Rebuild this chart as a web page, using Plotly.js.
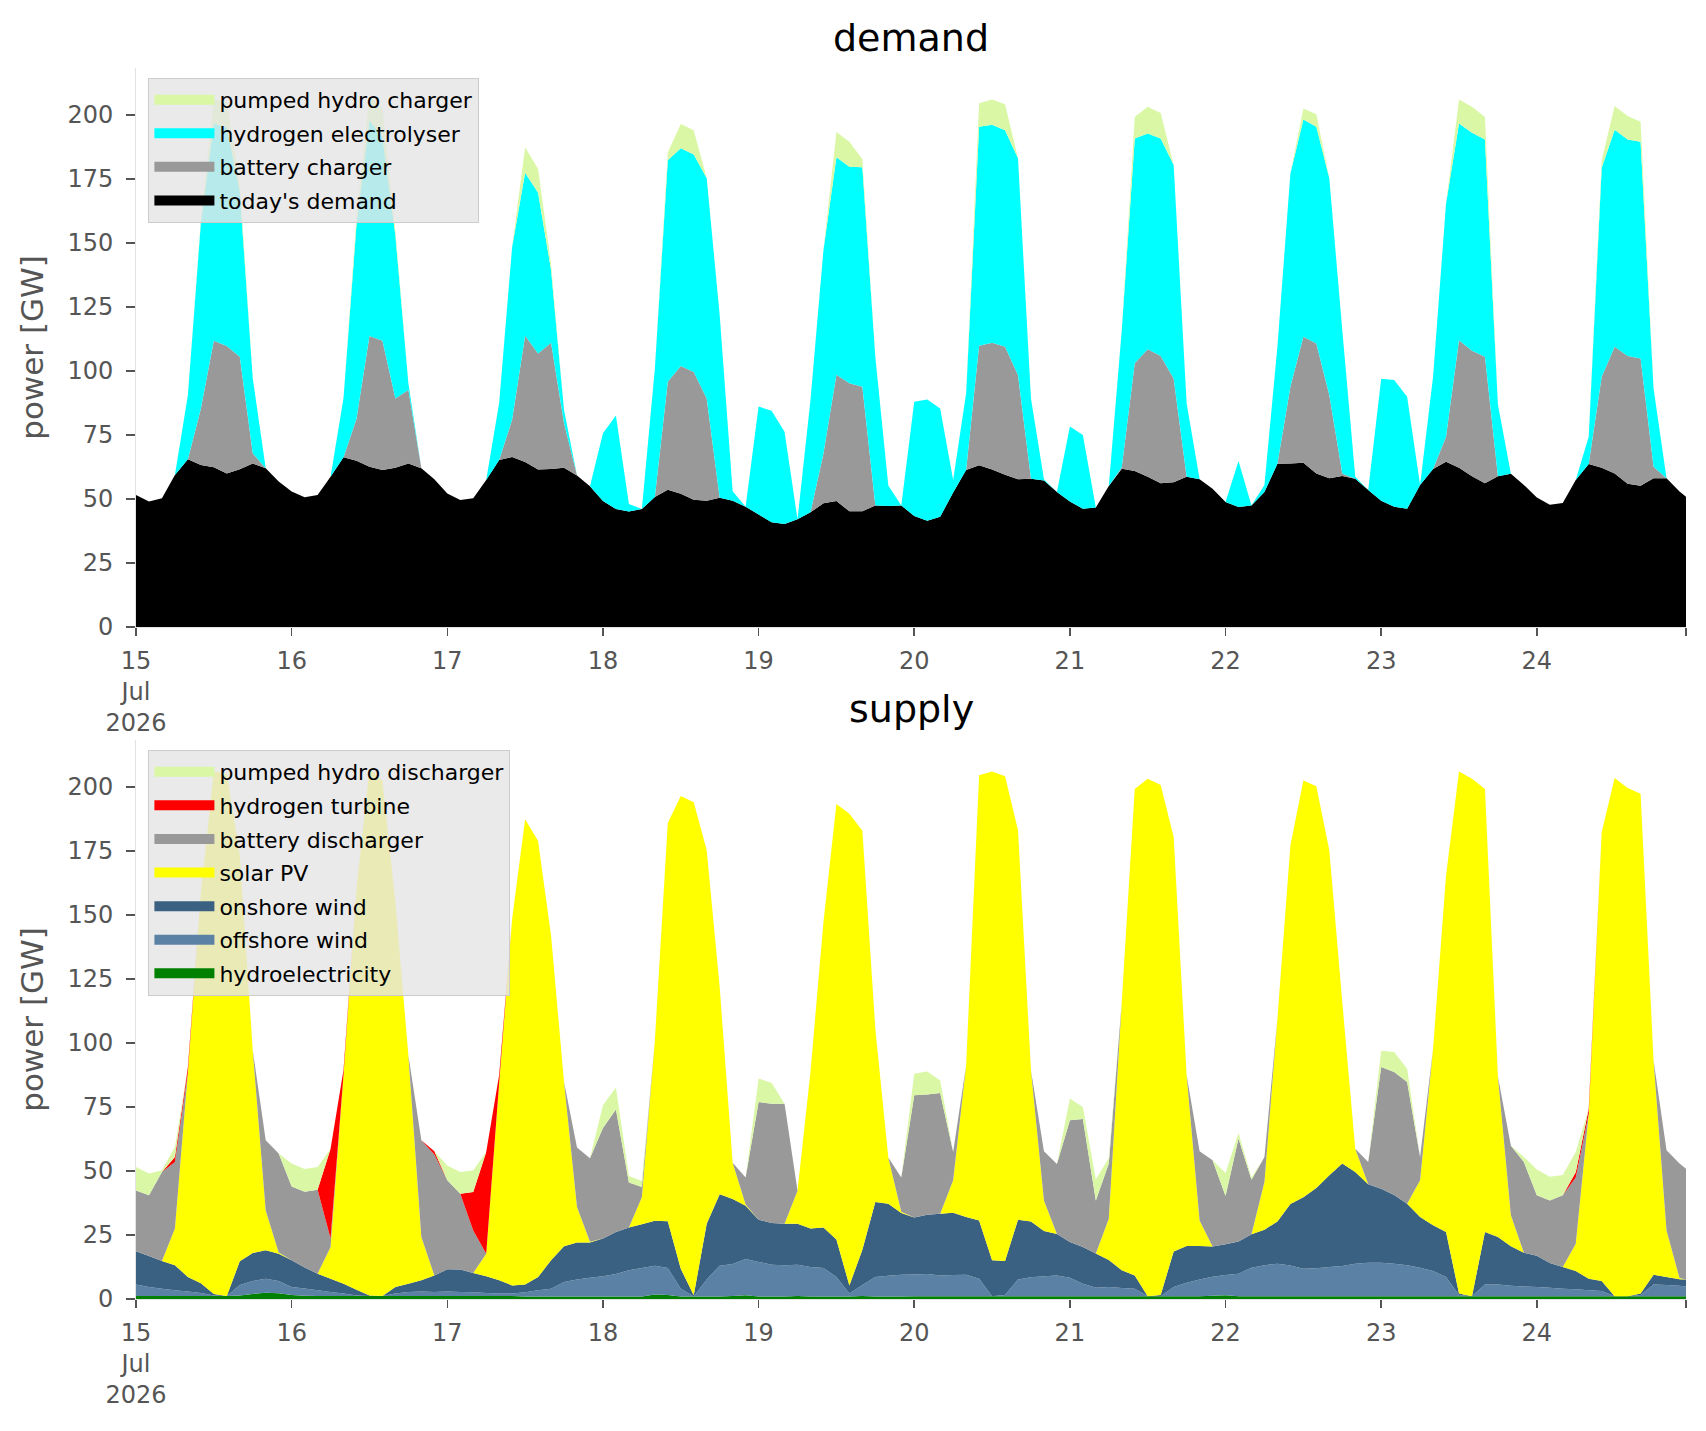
<!DOCTYPE html>
<html>
<head>
<meta charset="utf-8">
<script src="https://cdn.plot.ly/plotly-3.0.1.min.js"></script>
<style>
  html, body { margin: 0; padding: 0; background: #ffffff; }
  #chart { width: 1706px; height: 1431px; }
</style>
</head>
<body>
<div id="chart"></div>
<script>
// two-hourly readings, 15 Jul 00:00 .. 24 Jul 22:00, plus the last hour 24 Jul 23:00
// one row per day (12 values), last value is 24 Jul 23:00

// ---- demand side [GW]
const todaysDemand = [
  51.6, 49.0, 50.3, 59.4, 65.5, 63.3, 62.4, 60.0, 61.6, 63.9, 62.0, 56.8,
  52.9, 50.7, 51.6, 58.7, 66.3, 65.0, 62.6, 61.3, 62.2, 63.9, 62.0, 57.7,
  52.2, 49.6, 50.3, 57.4, 65.2, 66.4, 64.5, 61.5, 61.7, 62.2, 59.2, 55.0,
  49.2, 46.1, 45.1, 46.1, 50.8, 53.6, 52.1, 49.7, 49.3, 50.5, 49.3, 47.0,
  44.0, 40.9, 40.2, 42.1, 44.8, 48.3, 49.2, 45.2, 45.2, 47.5, 47.3, 47.5,
  43.4, 41.5, 43.1, 52.5, 61.3, 63.2, 61.5, 59.5, 57.7, 57.9, 57.2, 52.7,
  49.0, 46.2, 46.7, 55.1, 61.8, 60.9, 58.7, 56.2, 56.6, 58.7, 57.7, 54.0,
  48.8, 46.9, 47.5, 52.7, 63.8, 63.9, 64.2, 60.0, 58.1, 59.0, 57.9, 53.5,
  49.3, 47.0, 46.2, 55.5, 61.7, 64.6, 62.2, 58.9, 56.2, 58.9, 59.9, 55.5,
  50.6, 47.8, 48.4, 57.4, 63.7, 62.2, 60.0, 56.0, 55.2, 58.1, 58.1, 52.9,
  50.9
];
const batteryCharger = [
  0, 0, 0, 0, 0, 22, 49.4, 49.8, 44, 4, 0, 0,
  0, 0, 0, 0, 0, 16.4, 51.1, 50.5, 27.1, 28.7, 0, 0,
  0, 0, 0, 0, 0, 14.7, 49.3, 45.4, 49.4, 17.4, 0, 0,
  0, 0, 0, 0, 0, 42.2, 49.9, 49.9, 40, 0, 0, 0,
  0, 0, 0, 0, 0, 19.5, 49.4, 50, 48.7, 0, 0, 0,
  0, 0, 0, 0, 0, 46.7, 49.6, 50, 40.7, 0, 0, 0,
  0, 0, 0, 0, 0.6, 42.1, 49.8, 49.7, 40.5, 0, 0, 0,
  0, 0, 0, 0, 0, 30, 49.2, 50.8, 32.5, 1, 0, 0,
  0, 0, 0, 0, 0, 9.7, 49.8, 49, 49.4, 0, 0, 0,
  0, 0, 0, 0, 0, 35.6, 49.5, 49.9, 49.7, 4.5, 0, 0,
  0
];
const electrolyser = [
  0, 0, 0, 0, 25, 72.6, 85, 85.4, 64.8, 29.3, 0, 0,
  0, 0, 0, 0, 23.3, 75.9, 84.3, 79.7, 63.7, 2.6, 0, 0,
  0, 0, 0, 0, 22.4, 67.5, 63.7, 62.8, 28.4, 5.2, 0, 0,
  26.5, 36.5, 3, 0, 50, 86.6, 85, 85, 86, 71.4, 3.7, 0,
  42.1, 43.6, 36.1, 0, 43.9, 79.5, 84.9, 84.6, 85.7, 58.1, 8, 0,
  44.6, 47.4, 42.3, 4.9, 30, 85.5, 85.1, 84.6, 84.7, 31.4, 0.5, 0,
  29.3, 28.8, 0, 0, 53.6, 87.9, 84.3, 85, 83.4, 28.7, 0, 0,
  0, 18, 0, 2.8, 45.7, 83.3, 84.9, 84.6, 84.7, 56, 0.8, 0,
  47.7, 49.5, 43.8, 0, 36.1, 91.2, 84.7, 85.2, 84.9, 28, 0, 0,
  0, 0, 0, 0, 10.6, 81.6, 84.8, 84.6, 84.7, 30.6, 0, 0,
  0
];
const pumpedHydroCharger = [
  0, 0, 0, 0, 0, 1, 9.4, 9.9, 3, 0, 0, 0,
  0, 0, 0, 0, 0, 3, 9.2, 11, 2, 0, 0, 0,
  0, 0, 0, 0, 0, 0, 9.9, 9.2, 2.4, 0, 0, 0,
  0, 0, 0, 0, 0, 3, 9.5, 9.5, 0, 0, 0, 0,
  0, 0, 0, 0, 0, 0, 9.9, 9.8, 3.1, 0, 0, 0,
  0, 0, 0, 0, 0, 9.2, 9.9, 10.1, 0, 0, 0, 0,
  0, 0, 0, 0, 0, 8.4, 10.5, 9.9, 0, 0, 0, 0,
  0, 0, 0, 0, 0, 0, 4.3, 4.9, 0, 0, 0, 0,
  0, 0, 0, 0, 0, 0, 9.4, 10.2, 8.8, 0, 0, 0,
  0, 0, 0, 0, 0, 3, 9.3, 9.1, 7.8, 0, 0, 0,
  0
];

// ---- supply side [GW]
const hydroelectricity = [
  1.2, 1.2, 1.2, 1.2, 1.2, 1.2, 1.2, 1.2, 1.4, 2.0, 2.4, 2.2,
  1.6, 1.3, 1.2, 1.2, 1.2, 1.2, 1.2, 1.2, 1.2, 1.2, 1.2, 1.2,
  1.2, 1.2, 1.2, 1.2, 1.2, 1.2, 1.0, 1.0, 1.0, 1.0, 1.0, 1.0,
  1.0, 1.0, 1.0, 1.0, 1.8, 1.6, 1.0, 1.0, 1.0, 1.0, 1.2, 1.5,
  1.0, 1.0, 1.0, 1.2, 1.0, 1.0, 1.0, 1.0, 1.2, 1.0, 1.0, 1.0,
  1.1, 1.1, 1.1, 1.1, 1.1, 1.1, 1.1, 1.1, 1.1, 1.1, 1.1, 1.1,
  1.1, 1.1, 1.1, 1.1, 1.1, 1.1, 1.1, 1.1, 1.1, 1.1, 1.1, 1.3,
  1.5, 1.1, 1.1, 1.1, 1.1, 1.1, 1.1, 1.1, 1.1, 1.1, 1.1, 1.1,
  1.1, 1.1, 1.1, 1.1, 1.1, 1.1, 1.1, 1.1, 1.1, 1.1, 1.1, 1.1,
  1.1, 1.1, 1.1, 1.1, 1.1, 1.1, 1.1, 1.1, 1.1, 1.1, 1.1, 1.1,
  1.1
];
const offshoreWind = [
  4.5, 3.5, 2.8, 2.2, 1.7, 1.1, 0.2, 0, 4.1, 5.0, 5.5, 4.8,
  3.1, 2.8, 2.2, 1.5, 0.9, 0.2, 0, 0, 0.9, 1.5, 1.7, 1.5,
  1.7, 1.5, 1.4, 1.1, 0.9, 0.9, 1.6, 2.4, 3.0, 5.6, 6.6, 7.3,
  7.9, 8.8, 10.2, 11.1, 11.2, 10.5, 3.0, 0, 6.6, 12, 12.5, 14.1,
  13.5, 12.4, 12.2, 12.2, 11.5, 11.1, 7.6, 1.1, 4.3, 7.6, 8.1, 8.5,
  8.5, 8.7, 8.1, 8.3, 8.4, 6.8, 0, 0.5, 6.5, 7.4, 7.8, 8.1,
  7.2, 4.9, 3.3, 3.6, 3.2, 2.9, 0, 0, 3.6, 5.2, 6.5, 7.4,
  7.9, 8.8, 11.1, 12.1, 12.7, 12, 10.7, 10.9, 11.4, 11.8, 12.7, 13.1,
  13.1, 12.7, 12.1, 11.1, 9.8, 7.5, 0.5, 0, 4.6, 4.6, 4.1, 3.8,
  3.6, 3.3, 2.9, 2.7, 2.3, 2, 0, 0, 0.5, 4.6, 4.4, 4.1,
  3.8
];
const onshoreWind = [
  13.0, 12.1, 10.8, 9.8, 5.7, 3.9, 0.6, 0, 9.2, 11, 11.1, 10.7,
  10.4, 8.2, 6.5, 5.2, 3.9, 2.2, 0.2, 0, 2.6, 3.3, 4.4, 6.5,
  8.7, 8.8, 7.6, 6.6, 5.2, 3.2, 3.1, 5.2, 11.1, 14.0, 14.5, 13.8,
  14.7, 16.4, 16.7, 17.1, 17.6, 18.3, 7.8, 0.5, 21.8, 27.9, 25.4, 20.8,
  16.5, 16.3, 16.2, 16, 15, 15.8, 14.6, 3.2, 13.7, 29.3, 28.1, 24.1,
  22.2, 23.1, 24.1, 24.3, 22.5, 22.8, 14, 13.2, 23.4, 21.8, 17.7, 16.2,
  14, 14.3, 13.4, 10.5, 6.9, 5.2, 0, 0.5, 13.9, 14.4, 13.1, 11.8,
  12, 12.6, 13.1, 13.9, 16.5, 24, 28, 31.4, 35.8, 40, 35.8, 30.6,
  28.9, 26.8, 24, 19.8, 17.9, 17.6, 0.5, 0, 20.5, 18.5, 15.4, 13.2,
  12.2, 9.7, 8.5, 7.1, 4.5, 3.9, 0, 0, 0.5, 3.8, 3.1, 2.5,
  2.7
];
const solarPV = [
  0, 0, 0, 14.3, 79.9, 152.6, 204.2, 203.9, 158.9, 79.2, 15.6, 0.5,
  0, 0, 0, 12.4, 81.6, 156.7, 205.8, 201.3, 150.3, 89.2, 16.9, 0,
  0, 0, 0, 8.8, 77.3, 143.3, 181.7, 170.3, 126.8, 64.2, 13.8, 0.3,
  0, 0, 0, 10.6, 70.2, 155.6, 184.7, 192.6, 145.9, 81, 14.1, 0.5,
  0, 0, 0, 12.9, 61.2, 119.4, 170.2, 184.3, 163.7, 67.7, 18.1, 0.5,
  0, 0, 0, 12.7, 59.3, 173.9, 191, 189.4, 152.1, 59, 11.9, 0,
  0, 0, 0, 16.2, 104.8, 190.1, 202.2, 199.2, 161.9, 66.7, 10, 0,
  0, 0, 0, 18.6, 79.2, 140.1, 162.8, 156.9, 127, 63.1, 9.1, 0,
  0, 0, 0, 14.4, 69, 139.3, 204, 202.2, 173.1, 62.7, 12.1, 0,
  0, 0, 0, 10.7, 64.4, 175.4, 202.5, 198.5, 195.3, 83.7, 18.2, 0.5,
  0
];
const batteryDischarger = [
  23.7, 23.7, 34.8, 26, 0, 0, 0, 0, 0, 0, 27.4, 38.6,
  28.9, 29.6, 32.8, 3.3, 0, 0, 0, 0, 0, 0, 37.8, 47.3,
  34.8, 29.6, 16.6, 0, 0, 0, 0, 0, 0, 0, 23.3, 32.6,
  43.2, 47.8, 17.6, 4, 0, 0, 0, 0, 0, 0, 0, 10.6,
  46, 46.6, 46.9, 0, 0, 0, 0, 0, 0, 0, 0, 13.4,
  47.8, 47, 47.2, 11, 0, 0, 0, 0, 0, 0, 19.2, 27.3,
  47.5, 50, 20.7, 21.5, 0, 0, 0, 0, 0, 0, 27, 33.7,
  18.8, 40.2, 21.3, 9.8, 0, 0, 0, 0, 0, 0, 0, 8.7,
  47.5, 48.1, 47.6, 9.1, 0, 0, 0, 0, 0, 0, 27.2, 35.4,
  23.6, 24.4, 28, 25.9, 0, 0, 0, 0, 0, 0, 31.3, 44.7,
  43.3
];
const hydrogenTurbine = [
  0, 0, 0, 2, 2, 0, 0, 0, 0, 0, 0, 0,
  0, 0, 0, 35.1, 2, 0, 0, 0, 0, 0, 0, 1.2,
  0, 0, 15, 39.7, 3, 0, 0, 0, 0, 0, 0, 0,
  0, 0, 0, 0, 0, 0, 0, 0, 0, 0, 0, 0,
  0, 0, 0, 0, 0, 0, 0, 0, 0, 0, 0, 0,
  0, 0, 0, 0, 0, 0, 0, 0, 0, 0, 0, 0,
  0, 0, 0, 0, 0, 0, 0, 0, 0, 0, 0, 0,
  0, 0, 0, 0, 0, 0, 0, 0, 0, 0, 0, 0,
  0, 0, 0, 0, 0, 0, 0, 0, 0, 0, 0, 0,
  0, 0, 0, 2, 2, 0, 0, 0, 0, 0, 0, 0,
  0
];
const pumpedHydroDischarger = [
  9.2, 8.5, 0.7, 3.9, 0, 0, 0, 0, 0, 0, 0, 0,
  8.9, 8.9, 8.9, 0, 0, 0, 0, 0, 0, 0, 0, 0,
  5.8, 8.5, 8.5, 0, 0, 0, 0, 0, 0, 0, 0, 0,
  8.9, 8.6, 2.6, 2.3, 0, 0, 0, 0, 0, 0, 0, 0,
  9.1, 8.2, 0, 0, 0, 0, 0, 0, 0, 0, 0, 0,
  8.4, 9, 4.9, 0, 0, 0, 0, 0, 0, 0, 0, 0,
  8.5, 4.7, 8.2, 2.2, 0, 0, 0, 0, 0, 0, 0, 0,
  9, 2.2, 0.9, 0, 0, 0, 0, 0, 0, 0, 0, 0,
  6.4, 7.8, 5.2, 0, 0, 0, 0, 0, 0, 0, 0, 2,
  10.1, 9.3, 7.9, 7.9, 0, 0, 0, 0, 0, 0, 0, 0,
  0
];

// x axis ticks: one per day, plus an unlabelled tick at the right end
const tickDays = ['2026-07-15', '2026-07-16', '2026-07-17', '2026-07-18', '2026-07-19',
                  '2026-07-20', '2026-07-21', '2026-07-22', '2026-07-23', '2026-07-24',
                  '2026-07-24 23:00'];
const tickText = ['15<br>Jul<br>2026', '16', '17', '18', '19', '20', '21', '22', '23', '24', ''];
const yTicks = [0, 25, 50, 75, 100, 125, 150, 175, 200];

// timestamps of the readings
function pad(n) { return (n < 10 ? '0' : '') + n; }
function stamp(ms) {
    const d = new Date(ms);
    return d.getUTCFullYear() + '-' + pad(d.getUTCMonth() + 1) + '-' + pad(d.getUTCDate()) +
        ' ' + pad(d.getUTCHours()) + ':00';
}
const t0 = Date.UTC(2026, 6, 15, 0);
const times = [];
for (let k = 0; k < todaysDemand.length - 1; k++) {
    times.push(stamp(t0 + k * 2 * 3600 * 1000));
}
times.push('2026-07-24 23:00');

function area(name, values, colour, group, xa, ya) {
    return {
        type: 'scatter',
        mode: 'none',
        x: times,
        y: values,
        name: name,
        stackgroup: group,
        fillcolor: colour,
        line: { width: 0 },
        xaxis: xa,
        yaxis: ya,
        showlegend: false,
        hoverinfo: 'skip'
    };
}

// legend entry only (a wide block swatch like the stackplot legend)
function swatch(name, colour, xa, ya, legend) {
    return {
        type: 'scatter',
        mode: 'lines',
        x: [null],
        y: [null],
        name: name,
        legend: legend,
        legendgroup: name,
        line: { color: colour, width: 15 },
        xaxis: xa,
        yaxis: ya,
        hoverinfo: 'skip'
    };
}

const demandColours = { demand: '#000000', battery: '#999999', h2: '#00ffff', hydro: '#daf7a6' };
const supplyColours = { hydro: '#008000', offshore: '#5b82a5', onshore: '#3b6182', solar: '#ffff00',
                        battery: '#999999', h2: '#ff0000', pumped: '#daf7a6' };

// stacking order bottom -> top
const data = [
    area("today's demand", todaysDemand, demandColours.demand, 'demand', 'x', 'y'),
    area('battery charger', batteryCharger, demandColours.battery, 'demand', 'x', 'y'),
    area('hydrogen electrolyser', electrolyser, demandColours.h2, 'demand', 'x', 'y'),
    area('pumped hydro charger', pumpedHydroCharger, demandColours.hydro, 'demand', 'x', 'y'),

    area('hydroelectricity', hydroelectricity, supplyColours.hydro, 'supply', 'x2', 'y2'),
    area('offshore wind', offshoreWind, supplyColours.offshore, 'supply', 'x2', 'y2'),
    area('onshore wind', onshoreWind, supplyColours.onshore, 'supply', 'x2', 'y2'),
    area('solar PV', solarPV, supplyColours.solar, 'supply', 'x2', 'y2'),
    area('battery discharger', batteryDischarger, supplyColours.battery, 'supply', 'x2', 'y2'),
    area('hydrogen turbine', hydrogenTurbine, supplyColours.h2, 'supply', 'x2', 'y2'),
    area('pumped hydro discharger', pumpedHydroDischarger, supplyColours.pumped, 'supply', 'x2', 'y2'),

    // legends, listed top to bottom
    swatch('pumped hydro charger', demandColours.hydro, 'x', 'y', 'legend'),
    swatch('hydrogen electrolyser', demandColours.h2, 'x', 'y', 'legend'),
    swatch('battery charger', demandColours.battery, 'x', 'y', 'legend'),
    swatch("today's demand", demandColours.demand, 'x', 'y', 'legend'),

    swatch('pumped hydro discharger', supplyColours.pumped, 'x2', 'y2', 'legend2'),
    swatch('hydrogen turbine', supplyColours.h2, 'x2', 'y2', 'legend2'),
    swatch('battery discharger', supplyColours.battery, 'x2', 'y2', 'legend2'),
    swatch('solar PV', supplyColours.solar, 'x2', 'y2', 'legend2'),
    swatch('onshore wind', supplyColours.onshore, 'x2', 'y2', 'legend2'),
    swatch('offshore wind', supplyColours.offshore, 'x2', 'y2', 'legend2'),
    swatch('hydroelectricity', supplyColours.hydro, 'x2', 'y2', 'legend2')
];

const tickFont = { family: 'DejaVu Sans', size: 24, color: '#555555' };

function xAxis(anchor) {
    return {
        type: 'date',
        anchor: anchor,
        range: ['2026-07-15 00:00', '2026-07-24 23:00'],
        tickmode: 'array',
        tickvals: tickDays,
        ticktext: tickText,
        ticks: 'outside',
        ticklen: 8,
        tickwidth: 1.5,
        tickcolor: '#555555',
        tickfont: tickFont,
        ticklabelstandoff: 4,
        showgrid: false,
        zeroline: false,
        showline: true,
        linecolor: '#e3e3e3',
        linewidth: 1,
        fixedrange: true
    };
}

function yAxis(domain, anchor) {
    return {
        domain: domain,
        anchor: anchor,
        range: [0, 218.4],
        tickmode: 'array',
        tickvals: yTicks,
        ticks: 'outside',
        ticklen: 9,
        tickwidth: 1.5,
        tickcolor: '#555555',
        tickfont: tickFont,
        ticklabelstandoff: 8,
        showgrid: false,
        zeroline: false,
        showline: true,
        linecolor: '#e3e3e3',
        linewidth: 1,
        fixedrange: true,
        title: {
            text: 'power [GW]',
            font: { family: 'DejaVu Sans', size: 31, color: '#555555' },
            standoff: 14
        }
    };
}

const legendStyle = {
    bgcolor: 'rgba(229,229,229,0.8)',
    bordercolor: '#cccccc',
    borderwidth: 1,
    font: { family: 'DejaVu Sans', size: 22, color: '#000000' },
    traceorder: 'grouped',
    tracegroupgap: 2,
    itemwidth: 60,
    xanchor: 'left',
    yanchor: 'top',
    x: 0.008
};

const layout = {
    width: 1706,
    height: 1431,
    margin: { l: 136, r: 20, t: 68, b: 132 },
    paper_bgcolor: '#ffffff',
    plot_bgcolor: '#ffffff',
    font: { family: 'DejaVu Sans', color: '#555555' },
    showlegend: true,
    hovermode: false,
    xaxis: xAxis('y'),
    yaxis: yAxis([0.5459, 1], 'x'),
    xaxis2: xAxis('y2'),
    yaxis2: yAxis([0, 0.4541], 'x2'),
    legend: Object.assign({}, legendStyle, { y: 0.992 }),
    legend2: Object.assign({}, legendStyle, { y: 0.446 }),
    annotations: [
        {
            text: 'demand', xref: 'paper', yref: 'paper', x: 0.5, y: 1.0244,
            xanchor: 'center', yanchor: 'middle', showarrow: false,
            font: { family: 'DejaVu Sans', size: 38, color: '#000000' }
        },
        {
            text: 'supply', xref: 'paper', yref: 'paper', x: 0.5, y: 0.4793,
            xanchor: 'center', yanchor: 'middle', showarrow: false,
            font: { family: 'DejaVu Sans', size: 38, color: '#000000' }
        }
    ]
};

Plotly.newPlot('chart', data, layout, { displayModeBar: false, staticPlot: true });
</script>
</body>
</html>
